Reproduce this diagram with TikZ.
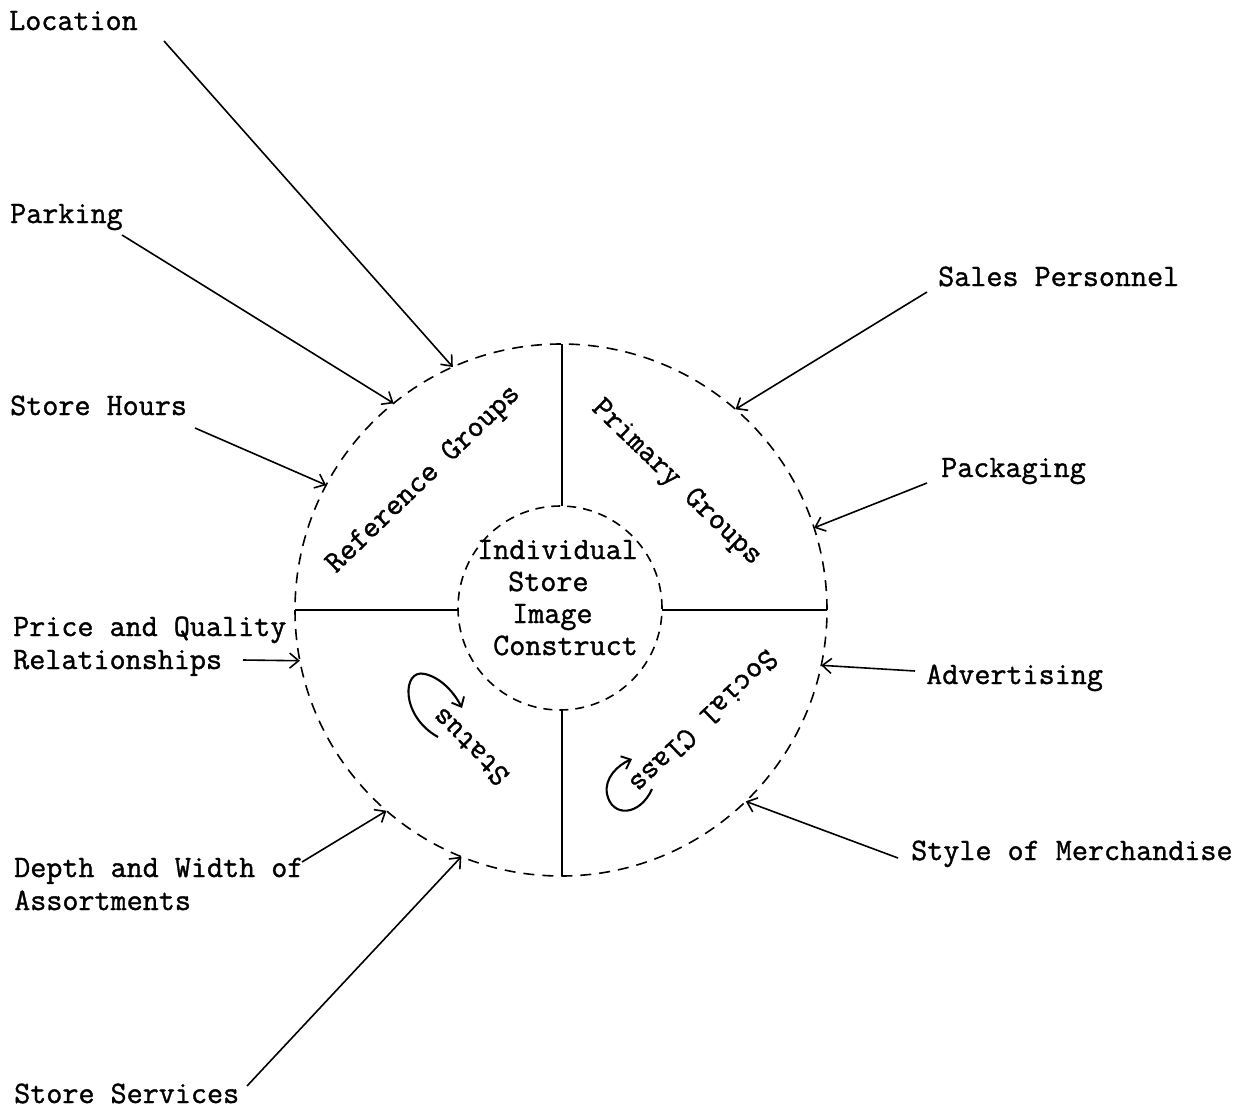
\documentclass[tikz,border=0pt]{standalone}
\usepackage{fontspec}
\newfontfamily\typewriter[FakeBold=1.2]{Latin Modern Mono}
\usetikzlibrary{arrows.meta}
\begin{document}
\begin{tikzpicture}[x=1pt,y=-1pt,
  tt/.style={font=\typewriter\fontsize{31.2}{34}\selectfont, inner sep=0pt},
  lab/.style={tt, anchor=base west},
  ring/.style={draw, circle, dash pattern=on 11pt off 8pt, line width=1.6pt, inner sep=0pt, outer sep=0pt},
  core/.style={draw, circle, dash pattern=on 9pt off 7pt, line width=1.6pt, inner sep=0pt, outer sep=0pt},
  divider/.style={line width=1.8pt},
  feed/.style={line width=1.6pt, -{Straight Barb[length=9pt,width=15pt,line width=1.6pt]}},
  curl/.style={line width=2.1pt, -{Straight Barb[length=8pt,width=14pt,line width=1.9pt]}}
]
\useasboundingbox (0,0) rectangle (1250,1111);

% circles
\node[ring, minimum size=532pt] (outer) at (561,610) {};
\node[core, minimum size=204pt] (inner) at (560,608) {};

% quadrant dividers
\draw[divider] (outer.north -| 562,0) -- (inner.north -| 562,0);
\draw[divider] (outer.south -| 562,0) -- (inner.south -| 562,0);
\draw[divider] (outer.west) -- (inner.west |- outer.west);
\draw[divider] (outer.east) -- (inner.east |- outer.east);

% centre text
\node[lab] (c1) at (477,559) {Individual};
\node[lab] (c2) at (508,591) {Store};
\node[lab] (c3) at (512,623) {Image};
\node[lab] (c4) at (493,655) {Construct};

% quadrant labels
\node[tt, rotate=44] (refg) at (424,480) {Reference Groups};
\node[tt, rotate=-44] (primg) at (676,483) {Primary Groups};
\node[tt, rotate=135] (status) at (470,747) {Status};
\node[tt, rotate=224] (social) at (704,722) {Social Class};

% turning arrows
\coordinate (s0) at (438,737);
\coordinate (s1) at (462,708);
\draw[curl] (s0) .. controls (400,716) and (402,668) .. (425,674)
  .. controls (442,678) and (455,694) .. (s1);
\coordinate (k0) at (652,789);
\coordinate (k1) at (632,759);
\draw[curl] (k0) .. controls (640,816) and (612,818) .. (607,794)
  .. controls (604,778) and (618,765) .. (k1);

% factor labels
\node[lab] (loc) at (9,30) {Location};
\node[lab] (park) at (10,223) {Parking};
\node[lab] (hours) at (10,415) {Store Hours};
\node[lab] (price) at (13,636) {Price and Quality};
\node[lab] (rel) at (13,669) {Relationships};
\node[lab] (depth) at (14,877) {Depth and Width of};
\node[lab] (assort) at (14,910) {Assortments};
\node[lab] (serv) at (14,1103) {Store Services};
\node[lab] (sales) at (938,286) {Sales Personnel};
\node[lab] (pack) at (941,477) {Packaging};
\node[lab] (adv) at (926,684) {Advertising};
\node[lab] (style) at (911,860) {Style of Merchandise};

% arrow tails
\coordinate (aLoc) at (164,41);
\coordinate (aPark) at (122,235);
\coordinate (aHours) at (195,428);
\coordinate (aRel) at (243,660);
\coordinate (aDepth) at (302,862);
\coordinate (aServ) at (247,1086);
\coordinate (aSales) at (927,292);
\coordinate (aPack) at (927,483);
\coordinate (aAdv) at (915,671);
\coordinate (aStyle) at (898,858);

% arrows into the store image
\draw[feed] (aLoc) -- (outer.114.4);
\draw[feed] (aPark) -- (outer.129.7);
\draw[feed] (aHours) -- (outer.152.7);
\draw[feed] (aRel) -- (outer.191.2);
\draw[feed] (aDepth) -- (outer.229.1);
\draw[feed] (aServ) -- (outer.248.5);
\draw[feed] (aSales) -- (outer.49.0);
\draw[feed] (aPack) -- (outer.18.0);
\draw[feed] (aAdv) -- (outer.-12.8);
\draw[feed] (aStyle) -- (outer.-46.7);
\end{tikzpicture}
\end{document}
